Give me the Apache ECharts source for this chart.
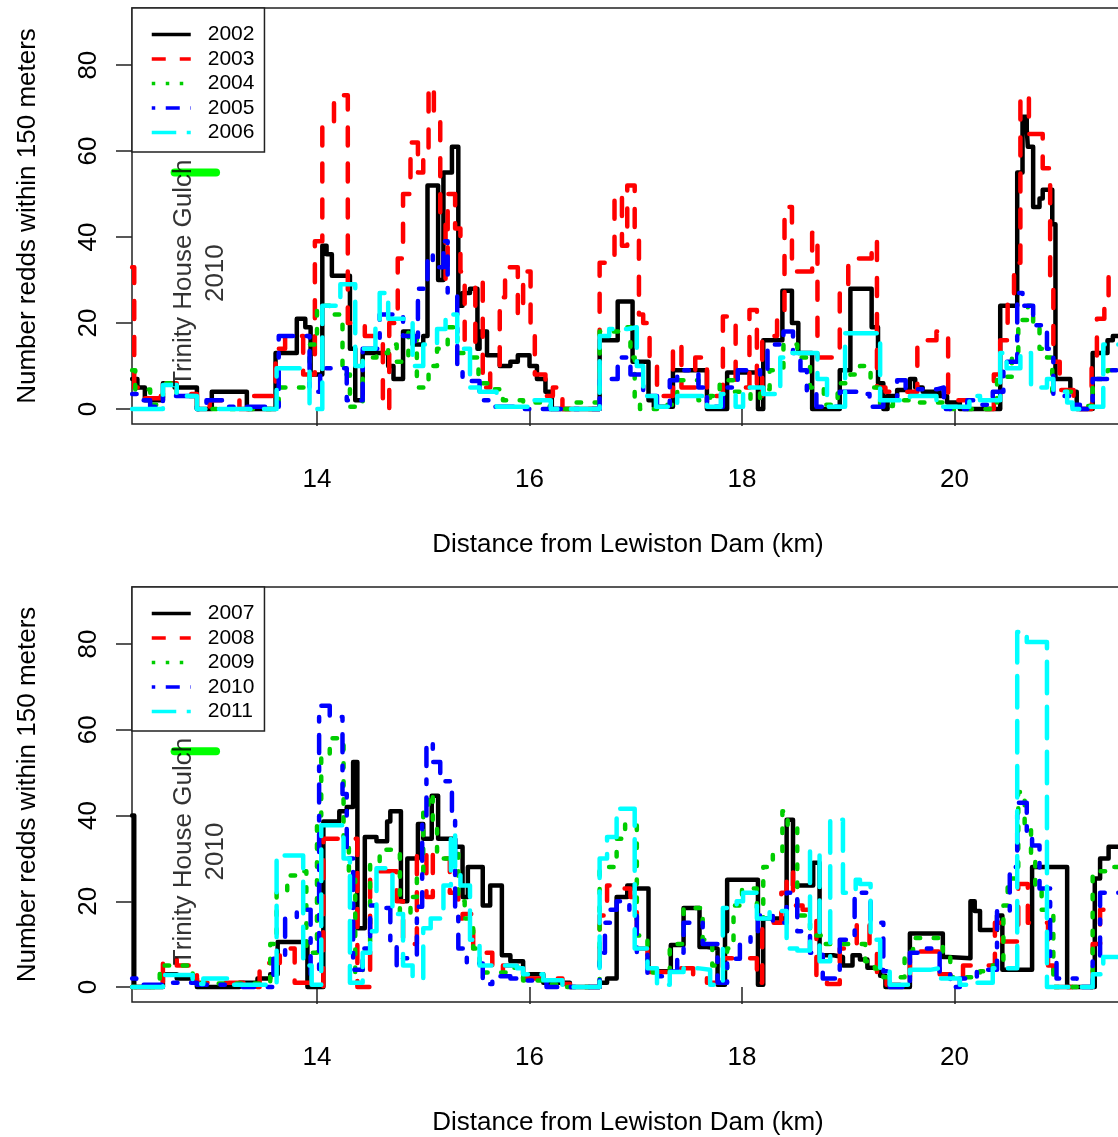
<!DOCTYPE html>
<html>
<head>
<meta charset="utf-8">
<script src="https://cdn.jsdelivr.net/npm/echarts@6/dist/echarts.min.js"></script>
<style>
html, body { margin: 0; padding: 0; background: #fff; overflow: hidden; }
#chart { width: 1140px; height: 1137px; }
</style>
</head>
<body>
<div id="chart"></div>
<script>
var years1 = ['2002', '2003', '2004', '2005', '2006'];
var years2 = ['2007', '2008', '2009', '2010', '2011'];
var xTicks = [14, 16, 18, 20];
var yTicks = [0, 20, 40, 60, 80];
var gulchLine = [[12.66, 55], [13.05, 55]];
var noteText = 'Trinity House Gulch\n2010';
var notePoint = [12.894, 31.6];

// step values [km, redds] -- value holds until the next km
var r2002 = [[12.26,7],[12.31,5],[12.38,2],[12.55,6],[12.66,5],[12.87,0],[13.01,4],[13.34,0],[13.61,13],[13.81,21],[13.89,19],[13.94,8],[14.05,38],[14.09,36],[14.14,31],[14.31,14],[14.36,2],[14.43,13],[14.67,10],[14.72,7],[14.81,18],[14.90,15],[15.00,17],[15.04,52],[15.14,30],[15.19,55],[15.27,61],[15.33,24],[15.37,27],[15.44,28],[15.51,14],[15.53,18],[15.60,12.5],[15.72,10],[15.82,11],[15.89,12.5],[16.00,10],[16.07,7],[16.15,4],[16.21,0],[16.66,16],[16.83,25],[16.97,11],[17.12,2],[17.17,0.5],[17.35,9],[17.67,0],[17.86,8.5],[18.15,0],[18.20,16],[18.38,27.5],[18.47,20],[18.53,13],[18.66,0],[18.92,9],[19.02,28],[19.22,19],[19.28,6],[19.33,0],[19.37,3],[19.46,4.4],[19.58,7],[19.63,5],[19.70,4],[19.86,3],[19.93,1.5],[20.05,0],[20.43,24],[20.59,55],[20.64,68],[20.68,65],[20.69,61],[20.74,47],[20.80,49],[20.83,51],[20.92,43],[20.95,7],[21.09,4],[21.15,0],[21.30,13],[21.44,16],[21.49,17],[21.6,17]];
var r2003 = [[12.26,33],[12.28,5],[12.36,2.5],[12.53,6],[12.68,3.5],[12.87,0],[12.99,2],[13.27,0],[13.40,3],[13.61,14],[13.70,17],[13.87,8],[13.98,39],[14.05,66],[14.16,73],[14.29,20],[14.45,17],[14.62,0],[14.68,20],[14.76,35],[14.81,50],[14.88,62],[14.95,55],[15.00,60],[15.05,75],[15.10,68],[15.16,45],[15.21,30],[15.23,50],[15.30,42],[15.35,32],[15.39,15],[15.49,30],[15.56,5],[15.63,10],[15.72,26],[15.77,33],[15.89,22],[15.94,32],[16.01,18],[16.05,8],[16.15,3],[16.22,5],[16.31,0],[16.66,34],[16.80,50],[16.87,38],[16.92,52],[16.99,40],[17.03,22],[17.07,20],[17.13,10],[17.20,3],[17.35,15],[17.43,5],[17.56,12],[17.67,3],[17.82,21.5],[17.94,5],[18.07,23],[18.14,3],[18.19,17],[18.33,21],[18.40,47],[18.47,32],[18.66,41],[18.71,12],[18.92,27],[19.00,35],[19.22,39],[19.27,5],[19.35,4],[19.65,16],[19.83,18],[19.94,2],[20.13,0],[20.37,8],[20.43,16],[20.50,25],[20.56,34],[20.62,73],[20.70,64],[20.83,56],[20.90,30],[20.93,11],[20.99,4.4],[21.12,2],[21.18,0],[21.29,12],[21.34,21],[21.41,25],[21.45,32],[21.6,32]];
var r2004 = [[12.26,9],[12.29,4.5],[12.43,1],[12.55,6],[12.68,3],[12.87,0],[13.64,5],[13.93,15],[14.00,24],[14.12,22],[14.24,8],[14.31,0.5],[14.43,12],[14.56,13],[14.67,15],[14.75,11],[14.86,18],[14.94,5],[15.05,10],[15.13,14],[15.23,19],[15.32,13],[15.44,12],[15.52,6],[15.63,4.6],[15.75,2],[15.94,1.5],[16.19,0],[16.38,1.5],[16.66,18],[16.88,19],[16.95,12],[16.99,2],[17.04,0],[17.20,1],[17.39,6.7],[17.59,2],[17.70,3],[17.79,6.7],[17.92,4],[18.08,2],[18.17,4.6],[18.26,9],[18.39,15],[18.52,12],[18.64,5],[18.77,1],[18.90,6],[19.02,8],[19.11,10],[19.21,5],[19.30,0.7],[19.42,2],[19.58,1.5],[19.89,0],[20.40,7.5],[20.54,13],[20.60,20.7],[20.69,24],[20.74,19],[20.80,14],[20.87,12],[20.92,4],[21.11,0.7],[21.30,7],[21.44,9],[21.6,9]];
var r2005 = [[12.26,3.5],[12.33,2],[12.43,0.5],[12.55,3],[12.87,0],[12.96,2],[13.11,0.5],[13.64,17],[13.93,4],[14.03,9.5],[14.28,2],[14.43,14],[14.59,22],[14.81,17],[14.92,15],[14.95,28],[15.04,36],[15.09,33],[15.19,39],[15.23,27],[15.32,10],[15.37,6.5],[15.53,2],[15.66,0.5],[15.85,0],[16.66,7],[16.83,12],[16.95,8],[17.07,3],[17.20,0.5],[17.32,6.7],[17.39,9],[17.59,5],[17.67,0.5],[17.82,5],[17.96,9],[18.17,8],[18.24,15],[18.39,18],[18.48,13],[18.55,9],[18.61,4],[18.70,0.5],[18.92,4],[19.10,3.5],[19.20,0.5],[19.33,2],[19.46,6.7],[19.54,4.6],[19.84,5],[19.90,0],[20.12,2],[20.24,1],[20.36,4],[20.46,11],[20.59,27],[20.64,24],[20.74,19.5],[20.87,14],[20.93,3],[21.09,1],[21.18,0],[21.30,7],[21.44,9],[21.6,9]];
var r2006 = [[12.26,0],[12.55,5.6],[12.68,3],[12.87,0],[13.62,9.5],[13.93,0],[14.05,24],[14.22,29],[14.36,10],[14.43,14],[14.55,19],[14.59,27],[14.67,21],[14.90,10],[15.00,15],[15.13,18.6],[15.21,22],[15.32,14],[15.44,5],[15.53,4],[15.69,0.5],[16.03,2],[16.20,0],[16.66,17],[16.75,18.6],[16.92,19],[17.01,10],[17.07,3],[17.19,0.5],[17.39,3],[17.67,0.5],[17.80,3.5],[17.94,0.5],[18.01,5],[18.20,3.5],[18.36,12],[18.45,13],[18.71,7],[18.80,0.5],[18.97,17.6],[19.30,2],[19.58,3],[19.83,0.5],[20.14,3],[20.24,2],[20.43,13],[20.49,9.5],[20.62,13],[20.72,5],[20.87,7],[20.93,4],[21.06,1.5],[21.11,0],[21.27,0.5],[21.40,15],[21.6,15]];

var r2007 = [[12.26,40],[12.28,0],[12.55,3],[12.68,2],[12.87,0],[13.27,1],[13.44,2],[13.56,3],[13.63,10.5],[13.91,0],[14.06,38.6],[14.21,41],[14.28,42],[14.34,52.5],[14.38,13.7],[14.45,35],[14.56,34],[14.66,38.6],[14.69,41],[14.79,20],[14.85,30],[14.95,38],[15.00,34.6],[15.08,44.6],[15.14,34.6],[15.30,32.7],[15.37,21],[15.42,28],[15.56,19],[15.63,23.7],[15.74,7.4],[15.82,6],[15.94,3],[16.13,1],[16.38,0],[16.66,1],[16.73,2],[16.82,21],[16.92,23.7],[16.97,23],[17.12,3.7],[17.33,9.8],[17.45,18.4],[17.60,9.3],[17.67,9],[17.77,0.5],[17.84,13],[17.86,25],[18.15,0.5],[18.20,16],[18.42,39],[18.48,23.7],[18.67,29],[18.73,7.4],[18.86,7],[18.95,5],[19.04,7.4],[19.11,6.4],[19.18,4.5],[19.30,2.6],[19.35,0],[19.58,12.5],[19.89,7],[19.94,6.7],[20.15,20],[20.19,17.7],[20.24,13.3],[20.40,16.7],[20.45,4],[20.73,28],[21.06,0],[21.32,25.3],[21.37,30],[21.45,32.7],[21.6,32.7]];
var r2008 = [[12.26,0],[12.55,6.4],[12.68,5],[12.87,1],[13.34,0],[13.46,5.6],[13.65,9],[13.79,1],[13.96,0],[14.06,34.6],[14.38,0],[14.50,27],[14.75,20],[14.81,10],[14.94,31.6],[15.03,21],[15.09,31],[15.16,30],[15.25,22],[15.33,16],[15.37,17],[15.47,8],[15.65,3.7],[15.75,5],[15.88,3],[15.94,2],[16.31,0.7],[16.38,0],[16.66,16.7],[16.73,23.7],[16.85,23],[16.95,21],[17.01,9],[17.11,3.5],[17.35,4.4],[17.54,2.8],[17.67,1],[17.82,6.7],[18.14,1],[18.19,15],[18.37,22],[18.42,27],[18.48,19],[18.57,18],[18.70,2],[18.80,0.7],[18.92,9],[19.08,15],[19.20,9],[19.27,3.5],[19.36,0.5],[19.58,8.3],[19.86,3],[19.96,2],[20.08,5],[20.38,15],[20.45,10.6],[20.60,24],[20.69,15],[20.88,5],[20.93,0],[21.30,10],[21.37,18],[21.6,18]];
var r2009 = [[12.26,0],[12.52,5],[12.83,0.8],[13.56,10],[13.62,22],[13.72,26],[13.81,27],[13.90,8],[14.00,40],[14.04,54],[14.12,58],[14.25,35],[14.30,25],[14.36,3],[14.43,8],[14.50,29],[14.59,32],[14.78,17],[14.88,21],[14.94,27],[15.00,41],[15.05,45],[15.09,38],[15.13,30],[15.25,31],[15.33,20],[15.39,16],[15.47,9],[15.53,3.4],[15.82,4.5],[15.94,1.5],[16.13,0.6],[16.31,0],[16.66,28],[16.82,34.6],[16.90,38],[17.01,12],[17.11,5],[17.16,3.4],[17.32,10],[17.45,18.4],[17.63,11],[17.72,5],[17.79,4.4],[17.86,9],[17.92,19],[18.00,23],[18.14,16],[18.20,28],[18.29,31],[18.38,41],[18.43,37],[18.52,16.7],[18.64,12],[18.76,10],[19.16,6],[19.25,4.3],[19.33,2.3],[19.53,8.3],[19.61,11.4],[19.89,7.3],[19.96,2.3],[20.24,3.7],[20.36,5],[20.46,19],[20.50,25.3],[20.60,45.5],[20.66,37.7],[20.72,30],[20.76,23.7],[20.82,18],[20.93,0],[21.30,27],[21.44,28],[21.6,28]];
var r2010 = [[12.26,2],[12.30,0.5],[12.55,1],[12.87,0.5],[13.30,0],[13.59,6.6],[13.70,16],[13.81,18],[13.94,3],[14.02,65.6],[14.12,63],[14.24,45],[14.28,30],[14.34,4],[14.43,9],[14.50,19],[14.56,18.4],[14.69,10],[14.75,5],[14.81,6.7],[14.94,18.7],[14.99,39],[15.03,57],[15.09,52.5],[15.16,48],[15.27,40],[15.30,18],[15.33,9],[15.41,5.5],[15.56,0.7],[15.65,2.5],[15.82,2],[15.98,1.5],[16.16,0],[16.66,8],[16.71,15],[16.76,18],[16.82,20],[16.94,17],[17.01,8],[17.11,2.5],[17.26,3.6],[17.39,8],[17.45,15],[17.63,10],[17.77,1],[17.86,6.6],[17.98,10],[18.08,12],[18.15,16.7],[18.29,15],[18.42,22],[18.52,13],[18.64,8],[18.76,2],[18.92,11],[19.06,22],[19.21,15],[19.33,3.7],[19.39,0],[19.58,8],[19.70,9],[19.86,3],[19.96,0],[20.05,2],[20.21,4],[20.40,17.7],[20.52,28],[20.59,43],[20.68,35],[20.73,33],[20.80,23],[20.90,6],[20.96,2],[21.15,0],[21.30,6],[21.37,22],[21.6,22]];
var r2011 = [[12.26,0],[12.55,2.8],[12.83,0.7],[12.93,2],[13.18,0.5],[13.62,30.7],[13.87,5],[13.95,0.5],[14.04,37.7],[14.25,30],[14.31,1],[14.43,8],[14.50,13],[14.56,27.7],[14.71,17],[14.81,5],[14.90,2],[15.00,13.7],[15.07,16],[15.19,23.7],[15.26,36],[15.30,27],[15.35,23.7],[15.44,11],[15.53,5],[15.88,4.4],[15.94,3],[16.13,1.6],[16.31,0],[16.66,30],[16.73,35],[16.82,41.6],[16.99,9],[17.11,4.4],[17.20,0.5],[17.32,3.5],[17.45,4.4],[17.58,4],[17.70,0.5],[17.82,18.4],[17.95,20],[18.01,22],[18.14,16],[18.26,17.7],[18.42,9],[18.52,8.5],[18.64,31.6],[18.73,6],[18.83,39],[18.95,22],[19.07,25],[19.11,24],[19.21,11],[19.30,3.6],[19.39,0.5],[19.58,4],[19.77,4.4],[19.86,2],[20.05,0.5],[20.15,1],[20.36,4.4],[20.59,82.8],[20.68,80.5],[20.87,0],[21.30,3],[21.40,7],[21.6,7]];

var panels = [
    { years: years1, data: [r2002, r2003, r2004, r2005, r2006] },
    { years: years2, data: [r2007, r2008, r2009, r2010, r2011] }
];

var font = '"Liberation Sans", Arial, sans-serif';
var colors = ['#000000', '#FF0000', '#00CD00', '#0000FF', '#00FFFF'];
// R lty patterns scaled to the line width (round caps)
var plotDash = ['solid', [18, 18], [4.5, 13.5], [4.5, 13.5, 18, 13.5], [31.5, 13.5]];
var legendDash = ['solid', [14, 14], [3.5, 10.5], [3.5, 10.5, 14, 10.5], [24.5, 10.5]];
var tops = [8, 587];

var myChart = echarts.init(document.getElementById('chart'), null, { renderer: 'canvas' });

var grids = [], xAxes = [], yAxes = [], legends = [], series = [];

panels.forEach(function (p, i) {
    grids.push({
        left: 132, top: tops[i], width: 992, height: 416,
        show: true, borderColor: '#222', borderWidth: 1.5, backgroundColor: 'transparent'
    });
    xAxes.push({
        type: 'value', gridIndex: i, min: 12.259, max: 21.595,
        axisLine: { show: false },
        splitLine: { show: false },
        axisTick: { show: true, length: 17, customValues: xTicks, lineStyle: { color: '#222', width: 1.5 } },
        axisLabel: { customValues: xTicks, margin: 43, fontSize: 26, color: '#000', fontFamily: font },
        name: 'Distance from Lewiston Dam (km)', nameLocation: 'middle', nameGap: 108,
        nameTextStyle: { fontSize: 26, color: '#000', fontFamily: font }
    });
    yAxes.push({
        type: 'value', gridIndex: i, min: -3.5, max: 93.3,
        axisLine: { show: false },
        splitLine: { show: false },
        axisTick: { show: true, length: 16, customValues: yTicks, lineStyle: { color: '#222', width: 1.5 } },
        axisLabel: {
            customValues: yTicks, rotate: 90, margin: 30, align: 'center', verticalAlign: 'bottom',
            fontSize: 26, color: '#000', fontFamily: font
        },
        name: 'Number redds within 150 meters', nameLocation: 'middle', nameGap: 91, nameRotate: 90,
        nameTextStyle: { fontSize: 26, color: '#000', fontFamily: font }
    });
    legends.push({
        left: 132, top: tops[i], orient: 'vertical', selectedMode: false,
        itemWidth: 39, itemHeight: 14, itemGap: 3.5,
        padding: [16, 10, 9, 18],
        backgroundColor: '#fff', borderColor: '#222', borderWidth: 1.5, borderRadius: 0,
        textStyle: { fontSize: 21, color: '#000', fontFamily: font, padding: [0, 0, 0, 12] },
        z: 20,
        data: p.years.map(function (y, k) {
            return {
                name: y,
                itemStyle: { opacity: 0 },
                lineStyle: { color: colors[k], width: 3.5, type: legendDash[k], cap: 'butt' }
            };
        })
    });
    p.years.forEach(function (y, k) {
        series.push({
            name: y, type: 'line', step: 'end', xAxisIndex: i, yAxisIndex: i,
            data: p.data[k], symbol: 'none', silent: true,
            lineStyle: { color: colors[k], width: 4.5, type: plotDash[k], cap: 'round', join: 'round' },
            itemStyle: { color: colors[k] }
        });
    });
    // green reach marker
    series.push({
        name: 'gulch' + i, type: 'line', xAxisIndex: i, yAxisIndex: i,
        data: gulchLine, symbol: 'none', silent: true,
        lineStyle: { color: '#00FF00', width: 8, cap: 'round' }
    });
    // rotated annotation
    series.push({
        name: 'note' + i, type: 'scatter', xAxisIndex: i, yAxisIndex: i,
        data: [notePoint], symbolSize: 0, silent: true, z: 3,
        label: {
            show: true, position: 'inside', formatter: noteText, rotate: 90,
            fontSize: 26, lineHeight: 32, color: '#000', fontFamily: font,
            align: 'center', verticalAlign: 'middle'
        }
    });
});

var option = {
    animation: false,
    backgroundColor: '#fff',
    grid: grids,
    xAxis: xAxes,
    yAxis: yAxes,
    legend: legends,
    series: series
};

myChart.setOption(option);
</script>
</body>
</html>
